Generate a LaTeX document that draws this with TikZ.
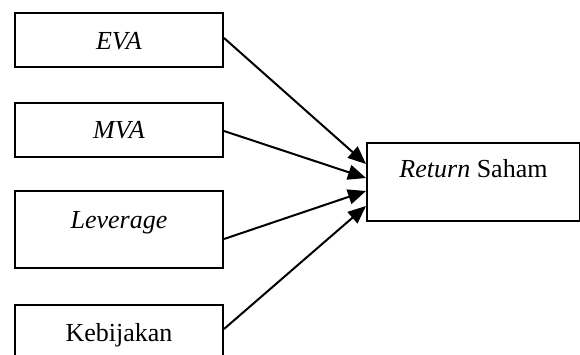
\documentclass[tikz,border=0pt]{standalone}
\usepackage{fontspec}
\setmainfont{Liberation Serif}
\usetikzlibrary{arrows.meta}

\tikzset{
  varbox/.style={draw, line width=2pt, inner sep=0pt, minimum width=208pt,
    anchor=north west, font=\fontsize{26}{30}\selectfont},
  effect/.style={line width=2pt, -{Triangle[length=18pt,width=15pt]}}
}

\begin{document}
\begin{tikzpicture}[x=1pt,y=-1pt]

	\useasboundingbox (0,0) rectangle (580,355);

	%The independent variables
	\node[varbox, text height=37pt, text depth=17pt] (eva) at (14,12) {\textit{EVA}};
	\node[varbox, text height=36pt, text depth=18pt] (mva) at (14,102) {\textit{MVA}};
	\node[varbox, text height=38pt, text depth=39pt] (lev) at (14,190) {\textit{Leverage}};
	\node[varbox, text height=36pt, text depth=20pt] (keb) at (14,304) {Kebijakan};

	%The dependent variable
	\node[varbox, minimum width=213pt, text height=35pt, text depth=43pt] (ret) at (366,142) {\textit{Return} Saham};

	\draw[effect] ([yshift=2pt]eva.east) -- ([yshift=18pt]ret.west);
	\draw[effect] ([yshift=-1pt]mva.east) -- ([yshift=4pt]ret.west);
	\draw[effect] ([yshift=-9.5pt]lev.east) -- ([yshift=-9pt]ret.west);
	\draw[effect] ([yshift=4pt]keb.east) -- ([yshift=-24pt]ret.west);

\end{tikzpicture}
\end{document}
